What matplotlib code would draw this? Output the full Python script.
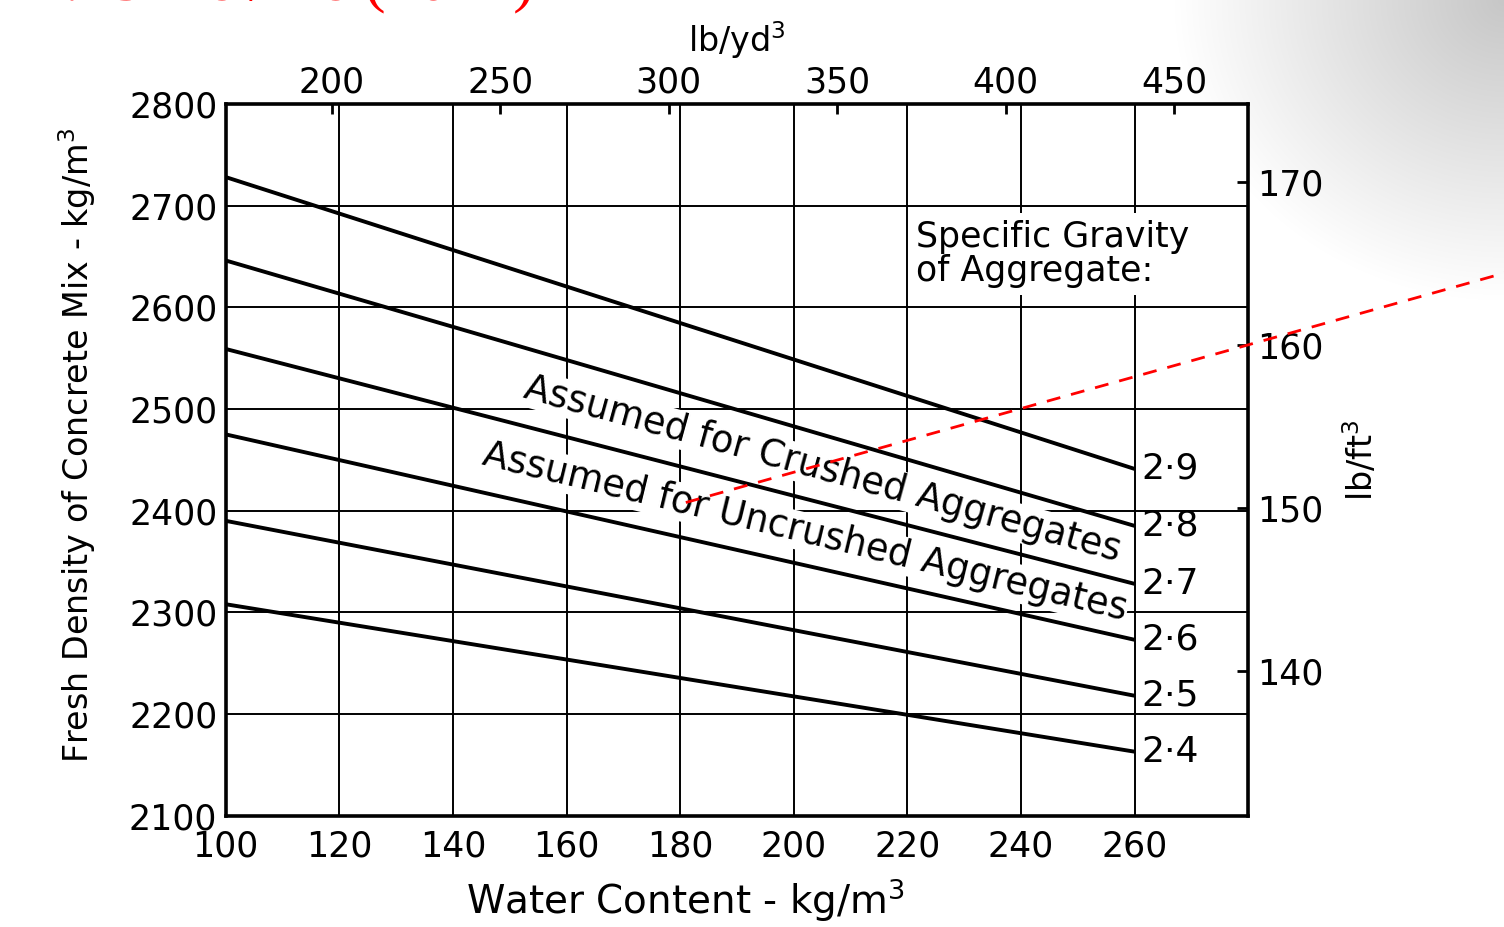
import numpy as np
import matplotlib
matplotlib.use('Agg')
import matplotlib.pyplot as plt

# Du lieu doc tu hinh (kg/m3)
water_ticks = [100, 120, 140, 160, 180, 200, 220, 240, 260, 280]
water_labels = ['100', '120', '140', '160', '180', '200', '220', '240', '260', '']
density_ticks = [2100, 2200, 2300, 2400, 2500, 2600, 2700, 2800]
lbyd_ticks = [200, 250, 300, 350, 400, 450]
lbft_ticks = [140, 150, 160, 170]

sg_labels = ['2\u00b74', '2\u00b75', '2\u00b76', '2\u00b77', '2\u00b78', '2\u00b79']
water_range = [100, 260]
density_at_100 = [2308, 2390, 2475, 2559, 2646, 2728]
density_at_260 = [2163, 2218, 2273, 2328, 2385, 2441]

# duong do net dut (chu thich)
red_x = [181, 340]
red_y = [2408, 2657]

KG_TO_LBYD = 1.6856
KG_TO_LBFT = 0.062428

FONT = 'DejaVu Sans'
plt.rcParams['font.family'] = [FONT]

fig = plt.figure(figsize=(15.04, 9.27), dpi=100)

# nen xam o goc tren ben phai (anh scan)
H, W = 927, 1504
yy, xx = np.mgrid[0:H, 0:W]
d = np.sqrt(((xx - W) / 330.0) ** 2 + (yy / 300.0) ** 2)
shade = 1.0 - 0.22 * np.clip(1.0 - d, 0, 1)
img = np.dstack([shade, shade, shade])
fig.figimage(img[::-1], xo=0, yo=0, zorder=-10, origin='lower')

ax = fig.add_axes([0.150, 0.120, 0.680, 0.768])
ax.set_zorder(2)
ax.set_xlim(100, 280)
ax.set_ylim(2100, 2800)

ax.set_xticks(water_ticks)
ax.set_xticklabels(water_labels)
ax.set_yticks(density_ticks)
ax.tick_params(axis='both', length=0, labelsize=25)
ax.tick_params(axis='x', pad=10)
ax.tick_params(axis='y', pad=6)
ax.grid(True, color='black', linewidth=1.4, zorder=1)
ax.set_axisbelow(True)
for s in ax.spines.values():
    s.set_linewidth(2.6)

ax.set_xlabel('Water Content - kg/m$^3$', fontsize=28, labelpad=12)
ax.xaxis.set_label_coords(0.45, -0.085)
ax.set_ylabel('Fresh Density of Concrete Mix - kg/m$^3$', fontsize=24, labelpad=12)
ax.yaxis.set_label_coords(-0.125, 0.52)

# truc phu tren: lb/yd3
top = ax.secondary_xaxis('top', functions=(lambda v: v * KG_TO_LBYD, lambda v: v / KG_TO_LBYD))
top.set_xticks(lbyd_ticks)
top.tick_params(direction='in', length=7, width=2, labelsize=25, pad=3)
top.set_xlabel('lb/yd$^3$', fontsize=24, labelpad=10)

# truc phu phai: lb/ft3
right = ax.secondary_yaxis('right', functions=(lambda v: v * KG_TO_LBFT, lambda v: v / KG_TO_LBFT))
right.set_yticks(lbft_ticks)
right.tick_params(direction='in', length=8, width=2, labelsize=25, pad=6)
right.set_ylabel('lb/ft$^3$', fontsize=24, labelpad=14)

# cac duong ty trong
for lab, y0, y1 in zip(sg_labels, density_at_100, density_at_260):
    ax.plot(water_range, [y0, y1], color='black', linewidth=2.8, zorder=3,
            solid_capstyle='butt')
    ax.text(water_range[1] + 1.2, y1, lab, fontsize=26, ha='left', va='center', zorder=4)

ax.text(221.5, 2652, 'Specific Gravity\nof Aggregate:', fontsize=25, ha='left', va='center',
        linespacing=1.0, zorder=2,
        bbox=dict(facecolor='white', edgecolor='none', pad=5))

def band_text(i, j, xc, txt):
    yi = np.interp(xc, water_range, [density_at_100[i], density_at_260[i]])
    yj = np.interp(xc, water_range, [density_at_100[j], density_at_260[j]])
    s1 = (density_at_260[i] - density_at_100[i]) / 160.0
    s2 = (density_at_260[j] - density_at_100[j]) / 160.0
    ang = np.degrees(np.arctan((s1 + s2) / 2))
    ax.text(xc, (yi + yj) / 2, txt, fontsize=26.5, ha='center', va='center',
            rotation=ang, transform_rotates_text=True, rotation_mode='anchor', zorder=2,
            bbox=dict(facecolor='white', edgecolor='none', pad=0.5))

band_text(4, 3, 205, 'Assumed for Crushed Aggregates')
band_text(3, 2, 202, 'Assumed for Uncrushed Aggregates')

ax.plot(red_x, red_y, color='red', linestyle=(0, (5, 4)), linewidth=2, clip_on=False, zorder=5)

fig.text(0.0, 1 + 1 / 927.0, '14.15 Neville (2012)', color='red', fontsize=46,
         family='Liberation Serif', ha='left', va='baseline')

fig.savefig('out.png', dpi=100)
